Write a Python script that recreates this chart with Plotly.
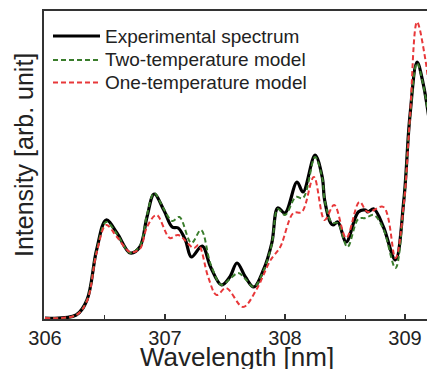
import plotly.graph_objects as go

# Experimental spectrum
exp_x = [306.0, 306.26, 306.35, 306.43, 306.51, 306.6, 306.71, 306.79, 306.85, 306.91, 306.99,
         307.06, 307.11, 307.17, 307.22, 307.31, 307.38, 307.47, 307.54, 307.6, 307.67, 307.74,
         307.82, 307.89, 307.94, 308.0, 308.1, 308.15, 308.25, 308.31, 308.33, 308.38, 308.4,
         308.44, 308.51, 308.61, 308.67, 308.69, 308.74, 308.82, 308.92, 308.99, 309.04, 309.1,
         309.15, 309.2]
exp_y = [1, 4, 19, 69, 99, 86, 66, 72, 102, 125, 109,
         92, 91, 79, 62, 73, 52, 34, 42, 56, 42, 32,
         49, 76, 111, 106, 137, 127, 164, 142, 119, 96, 94,
         97, 77, 107, 109, 107, 110, 92, 59, 119, 202, 257,
         236, 200]

# Two-temperature model
two_x = [306.0, 306.26, 306.35, 306.43, 306.51, 306.6, 306.71, 306.79, 306.85, 306.91, 306.99,
         307.06, 307.12, 307.22, 307.3, 307.38, 307.47, 307.54, 307.61, 307.67, 307.74,
         307.82, 307.89, 307.94, 308.0, 308.09, 308.15, 308.25, 308.31, 308.33, 308.38, 308.4,
         308.44, 308.52, 308.61, 308.67, 308.74, 308.82, 308.92, 308.99, 309.04, 309.1,
         309.15, 309.2]
two_y = [1, 4, 19, 68, 97, 85, 66, 73, 104, 126, 110,
         98, 102, 76, 89, 55, 34, 40, 46, 40, 32,
         48, 75, 110, 104, 122, 121, 162, 141, 119, 98, 96,
         96, 72, 100, 101, 104, 90, 51, 117, 200, 256,
         235, 200]

# One-temperature model
one_x = [306.0, 306.26, 306.35, 306.43, 306.51, 306.6, 306.71, 306.79, 306.85, 306.93,
         307.04, 307.11, 307.24, 307.28, 307.36, 307.43, 307.51, 307.65, 307.76, 307.88,
         307.96, 308.07, 308.14, 308.24, 308.33, 308.41, 308.51, 308.62, 308.69, 308.82,
         308.92, 308.99, 309.04, 309.1, 309.17, 309.2]
one_y = [1, 4, 18, 66, 94, 82, 67, 70, 92, 104,
         81, 84, 71, 74, 42, 24, 31, 12, 29, 59,
         72, 106, 107, 142, 99, 114, 81, 117, 107, 112,
         61, 115, 200, 297, 259, 230]

x_ticks = [306, 307, 308, 309]

series_names = ["Experimental spectrum", "Two-temperature model", "One-temperature model"]
series_colors = ["black", "#3a7d2c", "#e8383a"]

FONT = "Arial, Liberation Sans, sans-serif"

fig = go.Figure()
fig.add_trace(go.Scatter(x=exp_x, y=exp_y, mode="lines", name=series_names[0],
                         line=dict(color=series_colors[0], width=3.2, shape="spline", smoothing=1.0)))
fig.add_trace(go.Scatter(x=two_x, y=two_y, mode="lines", name=series_names[1],
                         line=dict(color=series_colors[1], width=2, dash="5px,3px", shape="spline", smoothing=1.0)))
fig.add_trace(go.Scatter(x=one_x, y=one_y, mode="lines", name=series_names[2],
                         line=dict(color=series_colors[2], width=2, dash="5px,3px", shape="spline", smoothing=1.0)))

# Plot area: left 44px, top 11px, height 308px, width 383px
PW, PH, PL, PT = 383.0, 308.0, 44.0, 11.0
def px_x(p):
    return (p - PL) / PW
def px_y(p):
    return (PT + PH - p) / PH

# Manual legend (tight row spacing like the reference)
legend_rows = [36, 60, 82.5]
shapes = []
annotations = []
for i, (nm, col) in enumerate(zip(series_names, series_colors)):
    yy = px_y(legend_rows[i])
    shapes.append(dict(type="line", xref="paper", yref="paper",
                       x0=px_x(53), x1=px_x(100), y0=yy, y1=yy,
                       line=dict(color=col, width=3.2 if i == 0 else 2,
                                 dash="solid" if i == 0 else "5px,3px")))
    annotations.append(dict(text=nm, xref="paper", yref="paper", x=px_x(102.5), y=yy,
                            xanchor="left", yanchor="middle", showarrow=False,
                            font=dict(size=19, color="#222", family=FONT)))

# Axis titles
annotations.append(dict(text="Wavelength [nm]", xref="paper", yref="paper",
                        x=px_x(236.5), y=px_y(357), xanchor="center", yanchor="middle",
                        showarrow=False, font=dict(size=26, color="#222", family=FONT)))
annotations.append(dict(text="Intensity [arb. unit]", xref="paper", yref="paper",
                        x=px_x(24), y=px_y(155), xanchor="center", yanchor="middle",
                        textangle=-90, showarrow=False,
                        font=dict(size=25, color="#222", family=FONT)))

fig.update_layout(
    width=427, height=369,
    margin=dict(l=44, r=0, t=11, b=50, autoexpand=False),
    paper_bgcolor="white", plot_bgcolor="white",
    font=dict(family=FONT, size=17, color="#222"),
    showlegend=False,
    shapes=shapes,
    annotations=annotations,
    xaxis=dict(range=[305.992, 309.183], tickvals=x_ticks, ticktext=[str(t) for t in x_ticks],
               automargin=False,
               ticks="inside", ticklen=5, tickwidth=1.5, tickcolor="#333",
               minor=dict(dtick=0.5, ticks="inside", ticklen=4, tickwidth=1.2, tickcolor="#333"),
               showline=True, linecolor="#333", linewidth=1.5, mirror=True,
               showgrid=False, zeroline=False,
               tickfont=dict(size=20)),
    yaxis=dict(range=[0, 308], showticklabels=False, ticks="", automargin=False,
               showline=True, linecolor="#333", linewidth=1.5, mirror=False,
               showgrid=False, zeroline=False),
)

fig.write_html("out.html", config={"displayModeBar": False},
               post_script="document.body.style.margin='0';document.body.style.overflow='hidden';")
